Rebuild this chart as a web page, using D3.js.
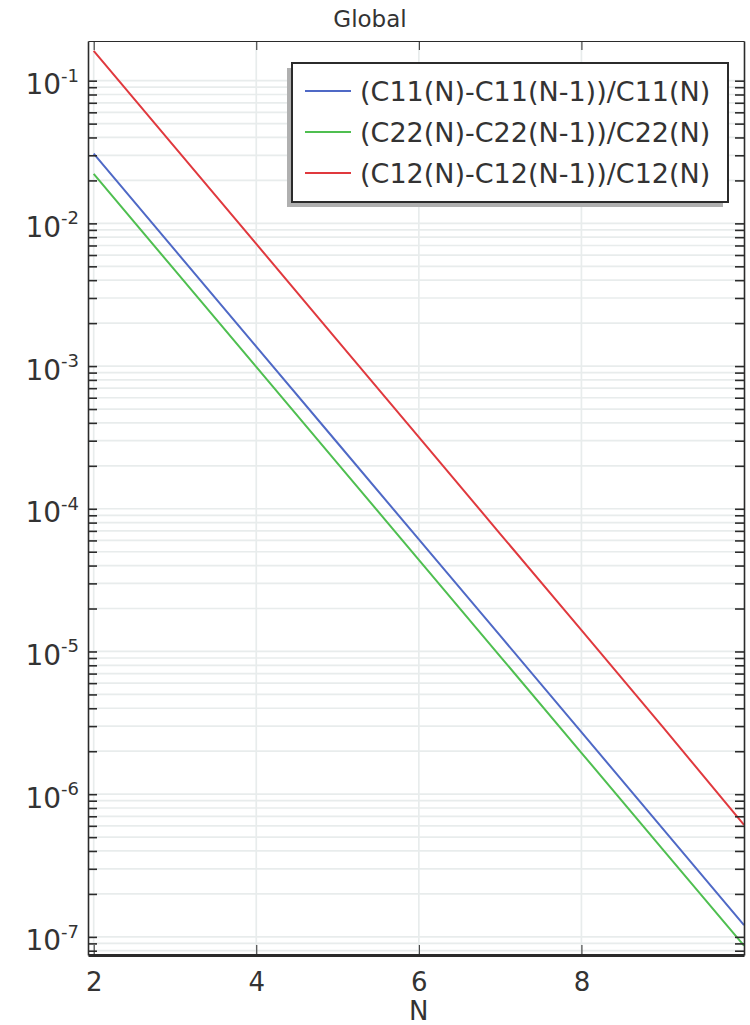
<!DOCTYPE html>
<html lang="en">
<head>
    <meta charset="UTF-8">
    <title>Global</title>
    <script src="https://d3js.org/d3.v7.min.js"></script>
    <style>
        body { margin: 0; background: #fff; }
        svg { display: block; font-family: "DejaVu Sans", sans-serif; }
        .grid line { stroke: #e8ecec; stroke-width: 1.7; }
        .axis path, .axis line { stroke: #2b2b2b; }
        .axis text { fill: #333; }
    </style>
</head>
<body>
<script>
    // N values and relative change of each coefficient
    const nValues = [2, 3, 4, 5, 6, 7, 8, 9, 10];
    const c11 = [3.08e-2, 6.49e-3, 1.37e-3, 2.89e-4, 6.1e-5, 1.29e-5, 2.72e-6, 5.74e-7, 1.21e-7];
    const c22 = [2.22e-2, 4.68e-3, 9.86e-4, 2.08e-4, 4.39e-5, 9.25e-6, 1.95e-6, 4.11e-7, 8.67e-8];
    const c12 = [1.62e-1, 3.41e-2, 7.18e-3, 1.51e-3, 3.18e-4, 6.68e-5, 1.41e-5, 2.96e-6, 6.1e-7];
    const seriesNames = ["(C11(N)-C11(N-1))/C11(N)", "(C22(N)-C22(N-1))/C22(N)", "(C12(N)-C12(N-1))/C12(N)"];
    const seriesColors = ["#4f69c6", "#4fbf50", "#e0393e"];
    const xTicks = [2, 4, 6, 8];
    const yExponents = [-1, -2, -3, -4, -5, -6, -7];

    const w = 750, h = 1025;
    const pLeft = 88, pRight = 744, pTop = 41, pBottom = 955;

    const svg = d3.select("body").append("svg")
        .attr("width", w)
        .attr("height", h);

    const x = d3.scaleLinear().domain([1.93, 10]).range([pLeft, pRight]);
    const y = d3.scaleLog().domain([Math.pow(10, -0.722), Math.pow(10, -7.127)]).range([pTop, pBottom]);

    // all log ticks (1..9 x 10^e) inside the domain
    const logTicks = [];
    for (let e = -8; e <= 0; e++) {
        for (let k = 1; k <= 9; k++) {
            const v = k * Math.pow(10, e);
            if (v <= y.domain()[0] && v >= y.domain()[1]) logTicks.push(v);
        }
    }

    // grid
    const grid = svg.append("g").attr("class", "grid");
    grid.selectAll(".hg").data(logTicks).enter().append("line")
        .attr("x1", pLeft).attr("x2", pRight)
        .attr("y1", d => y(d)).attr("y2", d => y(d));
    grid.selectAll(".vg").data(xTicks).enter().append("line")
        .attr("x1", d => x(d)).attr("x2", d => x(d))
        .attr("y1", pTop).attr("y2", pBottom);

    // series lines
    const line = d3.line().x(d => x(d[0])).y(d => y(d[1]));
    [c11, c22, c12].forEach((vals, i) => {
        svg.append("path")
            .datum(nValues.map((n, j) => [n, vals[j]]))
            .attr("fill", "none")
            .attr("stroke", seriesColors[i])
            .attr("stroke-width", 2)
            .attr("d", line);
    });

    // axes, ticks pointing inward
    const yLeft = svg.append("g").attr("class", "axis")
        .attr("transform", `translate(${pLeft},0)`)
        .call(d3.axisLeft(y).tickValues(logTicks).tickSize(-9).tickSizeOuter(0).tickFormat(""));
    const yRight = svg.append("g").attr("class", "axis")
        .attr("transform", `translate(${pRight},0)`)
        .call(d3.axisRight(y).tickValues(logTicks).tickSize(-9).tickSizeOuter(0).tickFormat(""));
    svg.append("g").attr("class", "axis")
        .attr("transform", `translate(0,${pTop})`)
        .call(d3.axisTop(x).tickValues(xTicks).tickSize(-9).tickSizeOuter(0).tickFormat(""));
    const xAxis = svg.append("g").attr("class", "axis")
        .attr("transform", `translate(0,${pBottom})`)
        .call(d3.axisBottom(x).tickValues(xTicks).tickSize(-10).tickSizeOuter(0).tickPadding(18));
    [yLeft, yRight].forEach(g => g.selectAll("path, line").attr("stroke-width", 1.6));
    xAxis.select("path").attr("stroke-width", 3);
    xAxis.selectAll("text").attr("font-size", 26).attr("font-family", "DejaVu Sans");

    // y tick labels 10^e
    const yl = svg.append("g").attr("fill", "#333");
    yExponents.forEach(e => {
        const t = yl.append("text")
            .attr("x", 79)
            .attr("y", y(Math.pow(10, e)) + 13.6)
            .attr("text-anchor", "end")
            .attr("font-size", 28);
        t.append("tspan").text("10");
        t.append("tspan").attr("font-size", 18).attr("dy", -12.6).text("-" + (-e));
    });

    // title and axis label
    svg.append("text")
        .attr("x", 370).attr("y", 27)
        .attr("text-anchor", "middle")
        .attr("font-size", 23)
        .attr("fill", "#333")
        .text("Global");
    svg.append("text")
        .attr("x", x(6)).attr("y", 1020)
        .attr("text-anchor", "middle")
        .attr("font-size", 26)
        .attr("fill", "#333")
        .text("N");

    // legend
    const lg = svg.append("g").attr("transform", "translate(292,63)");
    lg.append("rect")
        .attr("x", -5).attr("y", 5)
        .attr("width", 436).attr("height", 139)
        .attr("fill", "#b0b0b0");
    lg.append("rect")
        .attr("width", 436).attr("height", 139)
        .attr("fill", "#fff")
        .attr("stroke", "#2b2b2b")
        .attr("stroke-width", 2);
    seriesNames.forEach((name, i) => {
        const cy = 28 + i * 41;
        lg.append("line")
            .attr("x1", 13).attr("x2", 59)
            .attr("y1", cy).attr("y2", cy)
            .attr("stroke", seriesColors[i])
            .attr("stroke-width", 2);
        lg.append("text")
            .attr("x", 68).attr("y", cy + 9.5)
            .attr("font-size", 27)
            .attr("fill", "#333")
            .text(name);
    });
</script>
</body>
</html>
